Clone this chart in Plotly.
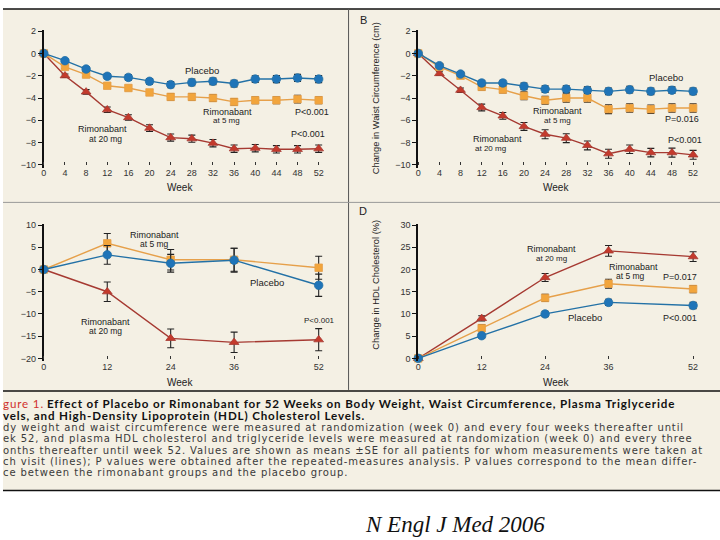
import plotly.graph_objects as go

W, H = 720, 540

# ---------------- data ----------------
weeks_ab = [0, 4, 8, 12, 16, 20, 24, 28, 32, 36, 40, 44, 48, 52]
weeks_cd = [0, 12, 24, 36, 52]

# Panel A: change in body weight (kg)
a_placebo = [0, -0.65, -1.4, -2.05, -2.15, -2.5, -2.8, -2.6, -2.5, -2.7, -2.3, -2.3, -2.2, -2.3]
a_placebo_se = [0, 0.15, 0.2, 0.22, 0.25, 0.25, 0.28, 0.3, 0.3, 0.3, 0.3, 0.32, 0.32, 0.32]
a_5mg = [0, -1.2, -1.9, -2.9, -3.1, -3.5, -3.9, -3.9, -4.0, -4.35, -4.2, -4.2, -4.1, -4.2]
a_5mg_se = [0, 0.15, 0.2, 0.22, 0.25, 0.25, 0.3, 0.3, 0.3, 0.3, 0.3, 0.32, 0.35, 0.32]
a_20mg = [0, -2.0, -3.45, -5.05, -5.75, -6.7, -7.55, -7.65, -8.05, -8.55, -8.5, -8.6, -8.6, -8.55]
a_20mg_se = [0, 0.15, 0.2, 0.25, 0.25, 0.3, 0.32, 0.32, 0.33, 0.33, 0.33, 0.33, 0.33, 0.33]

# Panel B: change in waist circumference (cm)
b_placebo = [0, -1.1, -1.85, -2.65, -2.65, -2.95, -3.2, -3.2, -3.3, -3.4, -3.25, -3.4, -3.3, -3.4]
b_placebo_se = [0, 0.15, 0.2, 0.25, 0.25, 0.3, 0.3, 0.3, 0.3, 0.3, 0.3, 0.3, 0.3, 0.3]
b_5mg = [0, -1.2, -2.0, -3.0, -3.25, -3.8, -4.2, -4.0, -4.0, -5.0, -4.9, -5.0, -4.9, -4.9]
b_5mg_se = [0, 0.15, 0.2, 0.3, 0.3, 0.35, 0.35, 0.38, 0.38, 0.4, 0.38, 0.38, 0.38, 0.38]
b_20mg = [0, -1.8, -3.3, -4.85, -5.6, -6.55, -7.25, -7.6, -8.25, -9.0, -8.6, -8.9, -8.9, -9.1]
b_20mg_se = [0, 0.15, 0.2, 0.3, 0.3, 0.35, 0.4, 0.4, 0.4, 0.4, 0.38, 0.38, 0.4, 0.4]

# Panel C: change in triglycerides (%)
c_placebo = [0, 3.3, 1.4, 2.1, -3.55]
c_placebo_se = [0, 2.1, 2.0, 2.7, 2.5]
c_5mg = [0, 5.9, 2.2, 2.2, 0.4]
c_5mg_se = [0, 2.2, 2.3, 2.6, 2.6]
c_20mg = [0, -5.0, -15.5, -16.4, -15.8]
c_20mg_se = [0, 2.2, 2.1, 2.3, 2.5]

# Panel D: change in HDL cholesterol (%)
d_placebo = [0, 5.1, 10.0, 12.6, 11.9]
d_placebo_se = [0, 0.5, 0.6, 0.7, 0.7]
d_5mg = [0, 6.8, 13.6, 16.8, 15.6]
d_5mg_se = [0, 0.8, 0.8, 1.0, 0.8]
d_20mg = [0, 9.0, 18.2, 24.2, 22.9]
d_20mg_se = [0, 0.6, 0.9, 1.2, 1.1]

ab_yticks = [2, 0, -2, -4, -6, -8, -10]
ab_yticktext = ["2", "0", "\u22122", "\u22124", "\u22126", "\u22128", "\u221210"]
c_yticks = [10, 5, 0, -5, -10, -15, -20]
c_yticktext = ["10", "5", "0", "\u22125", "\u221210", "\u221215", "\u221220"]
d_yticks = [30, 25, 20, 15, 10, 5, 0]
d_yticktext = ["30", "25", "20", "15", "10", "5", "0"]

# ---------------- style ----------------
C_PL_LINE, C_PL_MK = "#2371a6", "#1f74b8"
C_5_LINE, C_5_MK = "#e6a04a", "#f2a53c"
C_20_LINE, C_20_MK = "#a63a32", "#c43a2c"
FONT = "Liberation Sans"
BG = "#f4f0e4"


def px(x):
    return x / W


def py(y):
    return 1 - y / H


fig = go.Figure()

panels = [
    ("", weeks_ab, [(a_20mg, a_20mg_se, "20"), (a_5mg, a_5mg_se, "5"), (a_placebo, a_placebo_se, "pl")]),
    ("2", weeks_ab, [(b_20mg, b_20mg_se, "20"), (b_5mg, b_5mg_se, "5"), (b_placebo, b_placebo_se, "pl")]),
    ("3", weeks_cd, [(c_20mg, c_20mg_se, "20"), (c_5mg, c_5mg_se, "5"), (c_placebo, c_placebo_se, "pl")]),
    ("4", weeks_cd, [(d_20mg, d_20mg_se, "20"), (d_5mg, d_5mg_se, "5"), (d_placebo, d_placebo_se, "pl")]),
]

styles = {
    "pl": dict(line=C_PL_LINE, mk=C_PL_MK, sym="circle", size=8.5, name="Placebo"),
    "5": dict(line=C_5_LINE, mk=C_5_MK, sym="square", size=7.5, name="Rimonabant 5 mg"),
    "20": dict(line=C_20_LINE, mk=C_20_MK, sym="triangle-up", size=8.5, name="Rimonabant 20 mg"),
}

for suffix, xs, series in panels:
    for ys, se, key in series:
        st = styles[key]
        fig.add_trace(go.Scatter(
            x=xs, y=ys, mode="lines+markers", name=st["name"], showlegend=False,
            xaxis="x" + suffix, yaxis="y" + suffix, cliponaxis=False,
            line=dict(color=st["line"], width=1.4),
            marker=dict(symbol=st["sym"], size=st["size"], color=st["mk"],
                        line=dict(color=st["line"], width=0.8)),
            error_y=dict(type="data", array=se, visible=True, color="#222222",
                         thickness=1.1, width=3.5),
        ))


def xdom(x0):
    return [px(x0), px(x0 + 53.5 * 276 / 52)]


ab_range = [-10.3, 2.1]
ab_dom = [py(163 + 0.3 * 135.5 / 12), py(27.5 - 0.1 * 135.5 / 12)]
c_range = [-20.5, 10.3]
c_dom = [py(359 + 0.5 * 4.5), py(224 - 0.3 * 4.5)]
d_range = [-0.6, 30.3]
d_dom = [py(359 + 0.6 * 4.5), py(224 - 0.3 * 4.5)]

tickfont = dict(family=FONT, size=9, color="#333333")


def xax(x0, vals, anchor, pos):
    return dict(domain=xdom(x0), range=[0, 53.5], tickvals=vals, ticks="outside",
                ticklen=3, tickwidth=1, tickcolor="#333333", showline=False,
                zeroline=False, showgrid=False, tickfont=tickfont,
                anchor="free", position=pos)


def yax(dom, rng, vals, text, anchor):
    return dict(domain=dom, range=rng, tickvals=vals, ticktext=text, ticks="outside",
                ticklen=4, tickwidth=1, tickcolor="#111111", showline=True,
                linecolor="#111111", linewidth=2, zeroline=False, showgrid=False,
                tickfont=tickfont, anchor=anchor)


fig.update_layout(
    width=W, height=H, margin=dict(l=0, r=0, t=0, b=0),
    paper_bgcolor="white", plot_bgcolor="rgba(0,0,0,0)", showlegend=False,
    xaxis=xax(41, weeks_ab, "y", py(159)),
    yaxis=yax(ab_dom, ab_range, ab_yticks, ab_yticktext, "x"),
    xaxis2=xax(417, weeks_ab, "y2", py(159)),
    yaxis2=yax(ab_dom, ab_range, ab_yticks, ab_yticktext, "x2"),
    xaxis3=xax(41, weeks_cd, "y3", py(356)),
    yaxis3=yax(c_dom, c_range, c_yticks, c_yticktext, "x3"),
    xaxis4=xax(417, weeks_cd, "y4", py(356)),
    yaxis4=yax(d_dom, d_range, d_yticks, d_yticktext, "x4"),
)

shapes = [
    dict(type="rect", xref="paper", yref="paper", x0=0, x1=1, y0=py(493), y1=py(5),
         fillcolor=BG, line=dict(width=0), layer="below"),
    dict(type="line", xref="paper", yref="paper", x0=0, x1=1, y0=py(5), y1=py(5),
         line=dict(color="#111111", width=1.5)),
    dict(type="line", xref="paper", yref="paper", x0=px(347), x1=px(347), y0=py(5), y1=py(391),
         line=dict(color="#555555", width=1)),
    dict(type="line", xref="paper", yref="paper", x0=0, x1=1, y0=py(201), y1=py(201),
         line=dict(color="#9a9a9a", width=1)),
    dict(type="line", xref="paper", yref="paper", x0=0, x1=1, y0=py(392), y1=py(392),
         line=dict(color="#111111", width=1.5)),
    dict(type="line", xref="paper", yref="paper", x0=0, x1=1, y0=py(493), y1=py(493),
         line=dict(color="#111111", width=1.5)),
]
fig.update_layout(shapes=shapes)

ann = []


def t(x, y, text, size=9.5, anchor="center", color="#222222", family=FONT, angle=0):
    ann.append(dict(x=px(x), y=py(y), xref="paper", yref="paper", text=text, showarrow=False,
                    xanchor=anchor, yanchor="middle", textangle=angle, borderpad=0, borderwidth=0,
                    font=dict(family=family, size=size, color=color)))


# Panel A
t(200, 67, "Placebo")
t(225, 109, "Rimonabant", size=9)
t(224, 118, "at 5 mg", size=8)
t(310, 109, "P<0.001", size=9)
t(100, 127, "Rimonabant", size=9)
t(103, 136.5, "at 20 mg", size=8.5)
t(306, 132, "P<0.001", size=9)
t(178, 186, "Week", size=10)
# Panel B
t(358, 16, "B", size=11, anchor="left")
t(374, 95, "Change in Waist Circumference (cm)", size=9.3, angle=-90)
t(666, 74, "Placebo")
t(557, 108, "Rimonabant", size=9)
t(557, 118, "at 5 mg", size=8)
t(682, 117, "P=0.016", size=9)
t(497, 137, "Rimonabant", size=9)
t(490, 146.5, "at 20 mg", size=8)
t(685, 138, "P<0.001", size=9)
t(555, 186, "Week", size=10)
# Panel C
t(152, 234, "Rimonabant", size=9)
t(152, 243.5, "at 5 mg", size=8.5)
t(265, 282, "Placebo")
t(103, 322, "Rimonabant", size=9)
t(103, 331.5, "at 20 mg", size=8.5)
t(318, 321, "P<0.001", size=8)
t(178, 383, "Week", size=10)
# Panel D
t(357, 210, "D", size=11, anchor="left")
t(375, 284, "Change in HDL Cholesterol (%)", size=9.3, angle=-90)
t(551, 248, "Rimonabant", size=9)
t(551, 258, "at 20 mg", size=8)
t(633, 266, "Rimonabant", size=9)
t(630, 275.5, "at 5 mg", size=8.5)
t(680, 277, "P=0.017", size=9)
t(584, 318, "Placebo")
t(680, 318, "P<0.001", size=9)
t(555, 383, "Week", size=10)

# caption
TS = "letter-spacing:0.86px"
t(0, 404.5, f"<span style='{TS};color:#d0312d'>gure 1.</span> <span style='{TS}'><b>Effect of Placebo or "
            "Rimonabant for 52 Weeks on Body Weight, Waist Circumference, Plasma Triglyceride</b></span>",
  size=11.6, anchor="left", color="#111111", family="Lato")
t(0, 417, f"<span style='{TS}'><b>vels, and High-Density Lipoprotein (HDL) Cholesterol Levels.</b></span>",
  size=11.6, anchor="left", color="#111111", family="Lato")
body = [
    "dy weight and waist circumference were measured at randomization (week 0) and every four weeks thereafter until",
    "ek 52, and plasma HDL cholesterol and triglyceride levels were measured at randomization (week 0) and every three",
    "onths thereafter until week 52. Values are shown as means \u00b1SE for all patients for whom measurements were taken at",
    "ch visit (lines); P values were obtained after the repeated-measures analysis. P values correspond to the mean differ-",
    "ce between the rimonabant groups and the placebo group.",
]
for i, line in enumerate(body):
    t(0, 429 + i * 11.5, f"<span style='letter-spacing:0.9px'>{line}</span>", size=10, anchor="left",
      color="#3a3a3a", family="DejaVu Sans")

t(454, 527, "<i>N Engl J Med 2006</i>", size=23, family="Liberation Serif", color="#111111")

fig.update_layout(annotations=ann)
fig.write_html("out.html", config={"displayModeBar": False},
               post_script="document.body.style.margin='0px';")
